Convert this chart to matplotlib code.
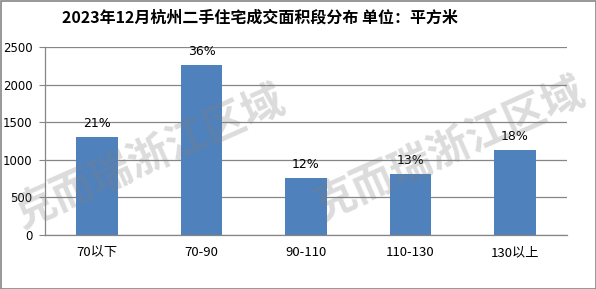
import matplotlib
matplotlib.use("Agg")
import matplotlib.pyplot as plt
import matplotlib.patches as mpatches

plt.rcParams['font.family'] = ['Noto Sans CJK SC', 'DejaVu Sans']

# data
categories = ["70以下", "70-90", "90-110", "110-130", "130以上"]
areas = [1303, 2262, 758, 811, 1130]
shares = ["21%", "36%", "12%", "13%", "18%"]
yticks = [0, 500, 1000, 1500, 2000, 2500]
title = "2023年12月杭州二手住宅成交面积段分布 单位：平方米"
watermark = "克而瑞浙江区域"

fig = plt.figure(figsize=(5.96, 2.89), dpi=100)
ax = fig.add_axes([45/596, 1 - 235/289, 522/596, 188/289])

x = range(len(categories))
bars = ax.bar(x, areas, width=0.4, color="#4F81BD", zorder=2)
for b, s in zip(bars, shares):
    ax.text(b.get_x() + b.get_width()/2, b.get_height() + 90, s,
            ha="center", va="bottom", fontsize=9, color="black",
            family=["DejaVu Sans"])

ax.set_xlim(-0.5, len(categories) - 0.5)
ax.set_ylim(0, 2500)
ax.set_yticks(yticks)
ax.set_yticklabels([str(v) for v in yticks], fontsize=8.5, family=["DejaVu Sans"])
ax.set_xticks(list(x))
ax.set_xticklabels(categories, fontsize=9.5)
ax.tick_params(axis="x", length=0, pad=8)
ax.tick_params(axis="y", length=4, color="#868686", pad=5)
ax.yaxis.grid(True, color="#868686", linewidth=0.9, zorder=0)
ax.set_axisbelow(True)
for side in ["top", "right"]:
    ax.spines[side].set_visible(False)
for side in ["left", "bottom"]:
    ax.spines[side].set_color("#868686")
    ax.spines[side].set_linewidth(0.9)

fig.text(260/596, 1 - 18/289, title, ha="center", va="center",
         fontsize=11.5, fontweight="semibold")

# watermarks
fig.text(150/596, 1 - 158/289, watermark, ha="center", va="center",
         rotation=24, fontsize=30, fontweight="bold", color="#808080",
         alpha=0.28, zorder=10)
fig.text(450/596, 1 - 150/289, watermark, ha="center", va="center",
         rotation=24, fontsize=30, fontweight="bold", color="#808080",
         alpha=0.28, zorder=10)

# outer border
fig.patches.append(mpatches.Rectangle((0.5/596, 0.5/289), 1 - 1/596, 1 - 1/289,
                                      transform=fig.transFigure, fill=False,
                                      edgecolor="#868686", linewidth=1.2))

fig.savefig("out.png", dpi=100)
